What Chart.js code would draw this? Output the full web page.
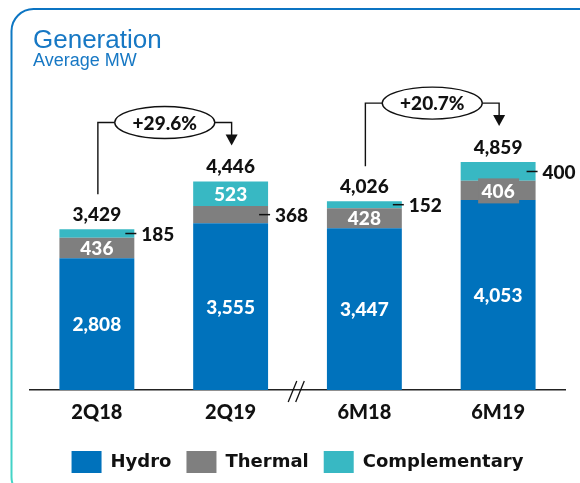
<!DOCTYPE html>
<html>
<head>
<meta charset="utf-8">
<script src="https://cdn.jsdelivr.net/npm/chart.js@4.4.0/dist/chart.umd.min.js"></script>
<style>
  html, body { margin: 0; padding: 0; background: #fff; }
  #chart-wrap { width: 580px; height: 483px; }
</style>
</head>
<body>
<div id="chart-wrap"><canvas id="gen-chart" width="580" height="483"></canvas></div>
<script>
// --- 1. DADOS ---
const categories = ['2Q18', '2Q19', '6M18', '6M19'];
const hydro = [2808, 3555, 3447, 4053];
const thermal = [436, 368, 428, 406];
const complementary = [185, 523, 152, 400];
const totals = [3429, 4446, 4026, 4859];
const growthLabels = ['+29.6%', '+20.7%'];
const growthPairs = [[0, 1], [2, 3]];
// labels that sit outside the bar with a leader line (dataset index -> bar indexes)
const outsideLabels = { 1: [1], 2: [0, 2, 3] };

// --- 2. ESTILO ---
const COLORS = { hydro: '#0072BC', thermal: '#7F7F7F', comp: '#38B8C3' };
const NUM_FONT = '900 19px Lato';
const fmt = v => v.toLocaleString('en-US');

// --- 3. PLUGIN: moldura, titulo, rotulos, setas ---
const decorPlugin = {
    id: 'decor',
    beforeDraw(chart) {
        const ctx = chart.ctx;
        ctx.save();
        const grad = ctx.createLinearGradient(0, 0, 0, 483);
        grad.addColorStop(0, '#0A72C2');
        grad.addColorStop(0.45, '#2A9FCB');
        grad.addColorStop(1, '#44D6C6');
        ctx.strokeStyle = grad;
        ctx.lineWidth = 2;
        ctx.beginPath();
        ctx.roundRect(11.5, 9, 590, 490, 22);
        ctx.stroke();

        ctx.fillStyle = '#1778C4';
        ctx.textBaseline = 'alphabetic';
        ctx.textAlign = 'left';
        ctx.font = '26px "Liberation Sans", Arial, sans-serif';
        ctx.fillText('Generation', 33, 48);
        ctx.font = '18px "Liberation Sans", Arial, sans-serif';
        ctx.fillText('Average MW', 33, 66);
        ctx.restore();
    },
    afterDatasetsDraw(chart) {
        const ctx = chart.ctx;
        const metas = chart.data.datasets.map((d, i) => chart.getDatasetMeta(i));
        ctx.save();
        ctx.textBaseline = 'middle';
        ctx.font = NUM_FONT;

        // valores dos segmentos
        metas.forEach((meta, di) => {
            const values = chart.data.datasets[di].data;
            meta.data.forEach((bar, bi) => {
                const top = bar.y, bottom = bar.base;
                const mid = (top + bottom) / 2;
                const right = bar.x + bar.width / 2;
                const outside = (outsideLabels[di] || []).includes(bi);
                if (outside) {
                    ctx.strokeStyle = '#111';
                    ctx.lineWidth = 1.5;
                    ctx.beginPath();
                    ctx.moveTo(right - 9, mid);
                    ctx.lineTo(right + 2, mid);
                    ctx.stroke();
                    ctx.fillStyle = '#111';
                    ctx.textAlign = 'left';
                    ctx.fillText(fmt(values[bi]), right + 7, mid + 1);
                } else {
                    if (bottom - top < 19.5) {
                        // caixa cinza atras do rotulo quando o segmento e baixo
                        ctx.fillStyle = chart.data.datasets[di].backgroundColor;
                        ctx.fillRect(bar.x - 20, mid - 12, 41, 25);
                    }
                    ctx.fillStyle = '#fff';
                    ctx.textAlign = 'center';
                    ctx.fillText(fmt(values[bi]), bar.x, mid + 1);
                }
            });
        });

        // totais
        const topMeta = metas[metas.length - 1];
        ctx.fillStyle = '#111';
        ctx.textAlign = 'center';
        ctx.textBaseline = 'alphabetic';
        topMeta.data.forEach((bar, i) => {
            ctx.fillText(fmt(totals[i]), bar.x, bar.y - 8);
        });

        // setas de crescimento
        growthPairs.forEach((pair, gi) => {
            const a = topMeta.data[pair[0]], b = topMeta.data[pair[1]];
            const xa = a.x + 1, xb = b.x + 1;
            const ya = a.y - 35, tip = b.y - 36;
            const yb = Math.min(a.y, b.y) - 59;
            const cx = (a.x + b.x) / 2 + 1;
            const rx = 50, ry = 16;
            ctx.strokeStyle = '#111';
            ctx.lineWidth = 1.4;
            ctx.beginPath();
            ctx.moveTo(xa, ya);
            ctx.lineTo(xa, yb);
            ctx.lineTo(cx - rx, yb);
            ctx.moveTo(cx + rx, yb);
            ctx.lineTo(xb, yb);
            ctx.lineTo(xb, tip - 10);
            ctx.stroke();
            ctx.fillStyle = '#111';
            ctx.beginPath();
            ctx.moveTo(xb - 6, tip - 11);
            ctx.lineTo(xb + 6, tip - 11);
            ctx.lineTo(xb, tip);
            ctx.closePath();
            ctx.fill();
            ctx.beginPath();
            ctx.ellipse(cx, yb, rx, ry, 0, 0, Math.PI * 2);
            ctx.fillStyle = '#fff';
            ctx.fill();
            ctx.stroke();
            ctx.fillStyle = '#111';
            ctx.textAlign = 'center';
            ctx.textBaseline = 'middle';
            ctx.fillText(growthLabels[gi], cx, yb + 1);
        });

        // quebra do eixo entre 2Q19 e 6M18
        const xs = chart.scales.x;
        const bx = (xs.getPixelForValue(1) + xs.getPixelForValue(2)) / 2 - 1;
        const by = chart.chartArea.bottom;
        ctx.strokeStyle = '#111';
        ctx.lineWidth = 1.3;
        [-4, 3.5].forEach(off => {
            ctx.beginPath();
            ctx.moveTo(bx + off - 4.3, by + 12);
            ctx.lineTo(bx + off + 4.3, by - 9);
            ctx.stroke();
        });
        ctx.restore();
    }
};

// --- 4. GRAFICO ---
const ctx = document.getElementById('gen-chart').getContext('2d');
new Chart(ctx, {
    type: 'bar',
    data: {
        labels: categories,
        datasets: [
            { label: 'Hydro', data: hydro, backgroundColor: COLORS.hydro, borderWidth: 0 },
            { label: 'Thermal', data: thermal, backgroundColor: COLORS.thermal, borderWidth: 0 },
            { label: 'Complementary', data: complementary, backgroundColor: COLORS.comp, borderWidth: 0 }
        ]
    },
    options: {
        responsive: false,
        animation: false,
        layout: { padding: { top: 108.6, left: 30, right: 15, bottom: 0 } },
        datasets: { bar: { categoryPercentage: 1, barPercentage: 0.56 } },
        scales: {
            x: {
                stacked: true,
                grid: { display: false, drawTicks: false },
                border: { display: true, color: '#222', width: 1.4 },
                ticks: { color: '#111', font: { family: 'Lato', weight: '900', size: 20 }, padding: 11 },
                afterFit: (scale) => { scale.height = 46; }
            },
            y: { stacked: true, display: false, min: 0, max: 6000 }
        },
        plugins: {
            legend: {
                position: 'bottom',
                labels: {
                    boxWidth: 30,
                    boxHeight: 22,
                    padding: 15,
                    color: '#111',
                    font: { family: '"DejaVu Sans"', weight: 'bold', size: 18 }
                }
            },
            tooltip: { enabled: false }
        }
    },
    plugins: [decorPlugin]
});
</script>
</body>
</html>
